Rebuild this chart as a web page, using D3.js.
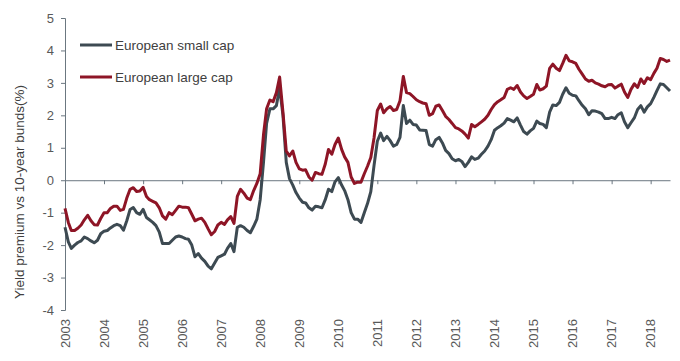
<!DOCTYPE html>
<html>
<head>
<meta charset="utf-8">
<script src="https://cdn.jsdelivr.net/npm/d3@7.9.0/dist/d3.min.js"></script>
<style>
  html, body { margin: 0; padding: 0; background: #fff; }
  svg { display: block; font-family: "Liberation Sans", Arial, sans-serif; }
  .axis path, .axis line { stroke: #6b7780; }
  .axis text { fill: #595959; font-size: 13px; }
</style>
</head>
<body>
<svg id="chart" width="680" height="361"></svg>
<script>
// monthly values, Jan 2003 .. Jul 2018
const startMonth = new Date(2003, 0, 1);
const endMonth = new Date(2018, 6, 1);

const smallCap = [
  -1.45, -1.9, -2.1, -2.0, -1.92, -1.87, -1.75, -1.8, -1.87, -1.93, -1.85, -1.65,
  -1.57, -1.55, -1.47, -1.4, -1.36, -1.4, -1.54, -1.25, -0.9, -0.84, -1.0, -1.05,
  -0.9, -1.15, -1.22, -1.3, -1.4, -1.6, -1.95, -1.95, -1.95, -1.85, -1.75, -1.72,
  -1.75, -1.8, -1.82, -2.0, -2.36, -2.26, -2.4, -2.5, -2.65, -2.73, -2.55, -2.38,
  -2.33, -2.28, -2.1, -1.95, -2.2, -1.45, -1.4, -1.45, -1.55, -1.62, -1.42, -1.2,
  -0.6, 0.55, 1.75, 2.2, 2.2, 2.3, 2.85, 2.0, 0.55, 0.05, -0.15, -0.38,
  -0.55, -0.68, -0.7, -0.85, -0.92, -0.8, -0.82, -0.85, -0.6, -0.28, -0.35, -0.05,
  0.08, -0.15, -0.32, -0.6, -1.0, -1.2, -1.2, -1.3, -1.0, -0.72, -0.35, 0.45,
  1.2, 1.45, 1.22, 1.35, 1.22, 1.05, 1.1, 1.32, 2.3, 1.75, 1.85, 1.72,
  1.7, 1.55, 1.54, 1.53, 1.1, 1.05, 1.25, 1.32, 1.15, 0.92, 0.82, 0.66,
  0.6, 0.64, 0.58, 0.42, 0.55, 0.72, 0.64, 0.68, 0.8, 0.9, 1.05, 1.25,
  1.54, 1.62, 1.68, 1.76, 1.9, 1.85, 1.8, 1.92, 1.7, 1.5, 1.42, 1.52,
  1.6, 1.82, 1.75, 1.72, 1.62, 2.1, 2.32, 2.3, 2.4, 2.65, 2.85, 2.68,
  2.62, 2.6, 2.45, 2.31, 2.2, 2.02, 2.14, 2.13, 2.1, 2.05, 1.9, 1.9,
  1.94, 1.9, 2.02, 2.08, 1.8, 1.62, 1.77, 1.92, 2.18, 2.3, 2.1, 2.26,
  2.36, 2.56, 2.76, 2.97, 2.95, 2.85, 2.75
];

const largeCap = [
  -0.87, -1.3, -1.55, -1.55, -1.48, -1.38, -1.22, -1.08, -1.25, -1.37, -1.38, -1.18,
  -1.0, -1.0, -0.87, -0.8, -0.8, -0.93, -0.9, -0.55, -0.28, -0.23, -0.35, -0.33,
  -0.22, -0.5, -0.6, -0.65, -0.7, -0.85, -1.1, -1.2, -1.0, -1.06, -0.93, -0.8,
  -0.83, -0.83, -0.85, -1.05, -1.25, -1.2, -1.17, -1.3, -1.5, -1.68, -1.58, -1.38,
  -1.3, -1.36, -1.22, -1.12, -1.33, -0.5, -0.28, -0.4, -0.55, -0.6, -0.32, -0.1,
  0.2, 1.4, 2.2, 2.47, 2.42, 2.7, 3.18, 2.1, 0.9, 0.75, 0.9, 0.55,
  0.35, 0.31, 0.32, 0.1, 0.0, 0.24, 0.2, 0.18, 0.5, 0.95, 0.8, 1.1,
  1.3, 0.95, 0.72, 0.55, 0.1, -0.1, -0.06, -0.06, 0.2, 0.43, 0.7, 1.3,
  2.15, 2.35, 2.08, 2.2, 2.27, 2.15, 2.18, 2.45, 3.2, 2.7, 2.67, 2.58,
  2.48, 2.42, 2.38, 2.36, 2.0, 2.05, 2.28, 2.32, 2.15, 1.97, 1.87, 1.75,
  1.62, 1.58, 1.52, 1.42, 1.3, 1.72, 1.65, 1.72, 1.8, 1.88, 2.0, 2.18,
  2.33, 2.42, 2.48, 2.55, 2.8, 2.85, 2.8, 2.92, 2.72, 2.6, 2.52, 2.58,
  2.65, 2.95, 2.78, 2.82, 2.9, 3.45, 3.58, 3.45, 3.38, 3.6, 3.85, 3.68,
  3.65, 3.6, 3.42, 3.27, 3.12, 3.05, 3.08, 3.0, 2.96, 2.91, 2.88, 2.94,
  2.95, 2.84, 2.9, 2.96, 2.72, 2.55, 2.8, 2.97, 2.86, 3.12, 2.98, 3.16,
  3.1, 3.3, 3.45, 3.75, 3.72, 3.66, 3.7
];

const seriesNames = ['European small cap', 'European large cap'];
const seriesColors = ['#3d4a52', '#8e1526'];
const yTicks = [5, 4, 3, 2, 1, 0, -1, -2, -3, -4];
const yLabel = 'Yield premium vs 10-year bunds(%)';

const margin = { top: 18, right: 10, bottom: 51, left: 65 };
const width = 680, height = 361;

const svg = d3.select('#chart');

const x = d3.scaleTime()
    .domain([startMonth, endMonth])
    .range([margin.left, width - margin.right]);

const y = d3.scaleLinear()
    .domain([-4, 5])
    .range([height - margin.bottom, margin.top]);

const years = d3.timeYear.range(new Date(2003, 0, 1), new Date(2019, 0, 1));

// y axis (plain hyphen for negatives, like the source)
svg.append('g')
    .attr('class', 'axis')
    .attr('transform', `translate(${margin.left},0)`)
    .call(d3.axisLeft(y).tickValues(yTicks).tickSize(4).tickPadding(7).tickFormat((d) => String(d)));

// x axis sits on zero, labels go at the bottom
svg.append('g')
    .attr('class', 'axis')
    .attr('transform', `translate(0,${y(0)})`)
    .call(d3.axisBottom(x).tickValues(years).tickSize(4).tickSizeOuter(0).tickFormat(''));

svg.append('g')
    .selectAll('text')
    .data(years)
    .join('text')
    .attr('transform', (d) => `translate(${x(d)},${y(-4) + 9}) rotate(-90)`)
    .attr('dy', '0.35em')
    .attr('text-anchor', 'end')
    .attr('fill', '#595959')
    .attr('font-size', 13)
    .text((d) => d.getFullYear());

svg.append('text')
    .attr('transform', `translate(19,192) rotate(-90)`)
    .attr('dy', '0.35em')
    .attr('text-anchor', 'middle')
    .attr('fill', '#404040')
    .attr('font-size', 13.5)
    .text(yLabel);

const line = d3.line()
    .x((d, i) => x(d3.timeMonth.offset(startMonth, i)))
    .y((d) => y(d));

[smallCap, largeCap].forEach((values, i) => {
    svg.append('path')
        .attr('d', line(values))
        .attr('fill', 'none')
        .attr('stroke', seriesColors[i])
        .attr('stroke-width', 3)
        .attr('stroke-linejoin', 'round');
});

// legend
const legend = svg.append('g');
seriesNames.forEach((name, i) => {
    const ly = 45 + i * 32;
    legend.append('line')
        .attr('x1', 80).attr('x2', 112)
        .attr('y1', ly).attr('y2', ly)
        .attr('stroke', seriesColors[i])
        .attr('stroke-width', 3);
    legend.append('text')
        .attr('x', 115)
        .attr('y', ly)
        .attr('dy', '0.35em')
        .attr('fill', '#404040')
        .attr('font-size', 13.5)
        .text(name);
});
</script>
</body>
</html>
